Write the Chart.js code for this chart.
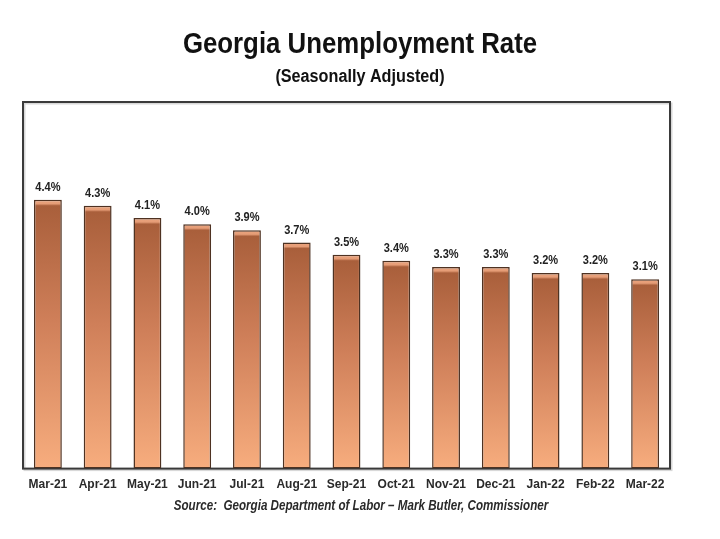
<!DOCTYPE html>
<html>
<head>
<meta charset="utf-8">
<script src="https://cdn.jsdelivr.net/npm/chart.js@4.4.1/dist/chart.umd.min.js"></script>
<style>
  html, body { margin: 0; padding: 0; background: #fff; }
  #wrap { width: 720px; height: 539px; }
</style>
</head>
<body>
<div id="wrap"><canvas id="urChart"></canvas></div>
<script>
const months = ["Mar-21", "Apr-21", "May-21", "Jun-21", "Jul-21", "Aug-21", "Sep-21",
                "Oct-21", "Nov-21", "Dec-21", "Jan-22", "Feb-22", "Mar-22"];
const rates = [4.4, 4.3, 4.1, 4.0, 3.9, 3.7, 3.5, 3.4, 3.3, 3.3, 3.2, 3.2, 3.1];

const titleText = "Georgia Unemployment Rate";
const subtitleText = "(Seasonally Adjusted)";
const sourceText = "Source:  Georgia Department of Labor \u2013 Mark Butler, Commissioner";

const sans = "'Liberation Sans', Arial, sans-serif";

// gradient per bar: thin light cap, dark top, light peach bottom
function barFill(c) {
    const chart = c.chart;
    const area = chart.chartArea;
    if (!area || c.raw === undefined) return "#d98a5e";
    const top = chart.scales.y.getPixelForValue(c.raw);
    const h = Math.max(area.bottom - top, 10);
    const g = chart.ctx.createLinearGradient(0, top, 0, area.bottom);
    g.addColorStop(0, "#eba57f");
    g.addColorStop(4 / h, "#e59c76");
    g.addColorStop(6 / h, "#a95f3b");
    g.addColorStop(0.45, "#cf7f59");
    g.addColorStop(1, "#f7ad7e");
    return g;
}

// no narrow font installed, so squeeze the text a bit
function narrowText(ctx, text, x, y, font, sx) {
    ctx.save();
    ctx.font = font;
    ctx.translate(x, y);
    ctx.scale(sx, 1);
    ctx.fillText(text, 0, 0);
    ctx.restore();
}

// frame around plot area
const frame = {
    id: "frame",
    beforeDatasetsDraw(chart) {
        const { ctx, chartArea: a } = chart;
        ctx.save();
        ctx.strokeStyle = "#d8d8d8";
        ctx.lineWidth = 2;
        ctx.strokeRect(a.left + 1.5, a.top + 1.5, a.right - a.left, a.bottom - a.top);
        ctx.strokeStyle = "#3a3a3a";
        ctx.lineWidth = 2;
        ctx.strokeRect(a.left, a.top, a.right - a.left, a.bottom - a.top);
        ctx.restore();
    }
};

// titles, percent labels and source line
const texts = {
    id: "texts",
    afterDatasetsDraw(chart) {
        const { ctx } = chart;
        const meta = chart.getDatasetMeta(0);
        ctx.save();
        ctx.textAlign = "center";
        ctx.textBaseline = "alphabetic";
        ctx.fillStyle = "#111";
        narrowText(ctx, titleText, 360, 53, "bold 29px " + sans, 0.89);
        narrowText(ctx, subtitleText, 360, 82, "bold 18px " + sans, 0.9);

        ctx.fillStyle = "#222";
        meta.data.forEach((bar, i) => {
            narrowText(ctx, rates[i].toFixed(1) + "%", bar.x, bar.y - 9, "bold 12px " + sans, 0.92);
        });

        ctx.fillStyle = "#2a2a2a";
        narrowText(ctx, sourceText, 361, 510, "italic bold 14px " + sans, 0.83);
        ctx.restore();
    }
};

new Chart(document.getElementById("urChart"), {
    type: "bar",
    data: {
        labels: months,
        datasets: [{
            label: "Unemployment Rate",
            data: rates,
            backgroundColor: barFill,
            borderColor: "#4e3222",
            borderWidth: 1.5,
            borderSkipped: false,
            barPercentage: 0.56,
            categoryPercentage: 1.0,
        }],
    },
    options: {
        responsive: true,
        maintainAspectRatio: false,
        animation: false,
        layout: {
            padding: { left: 23, right: 50, top: 102, bottom: 46 },
        },
        plugins: {
            legend: { display: false },
            tooltip: { enabled: false },
            title: { display: false },
        },
        scales: {
            x: {
                grid: { display: false },
                border: { display: false },
                ticks: {
                    color: "#2a2a2a",
                    font: { family: sans, size: 12, weight: "bold" },
                    padding: 1,
                    maxRotation: 0,
                    autoSkip: false,
                },
            },
            y: {
                display: false,
                min: 0,
                max: 6,
            },
        },
    },
    plugins: [frame, texts],
});
</script>
</body>
</html>
